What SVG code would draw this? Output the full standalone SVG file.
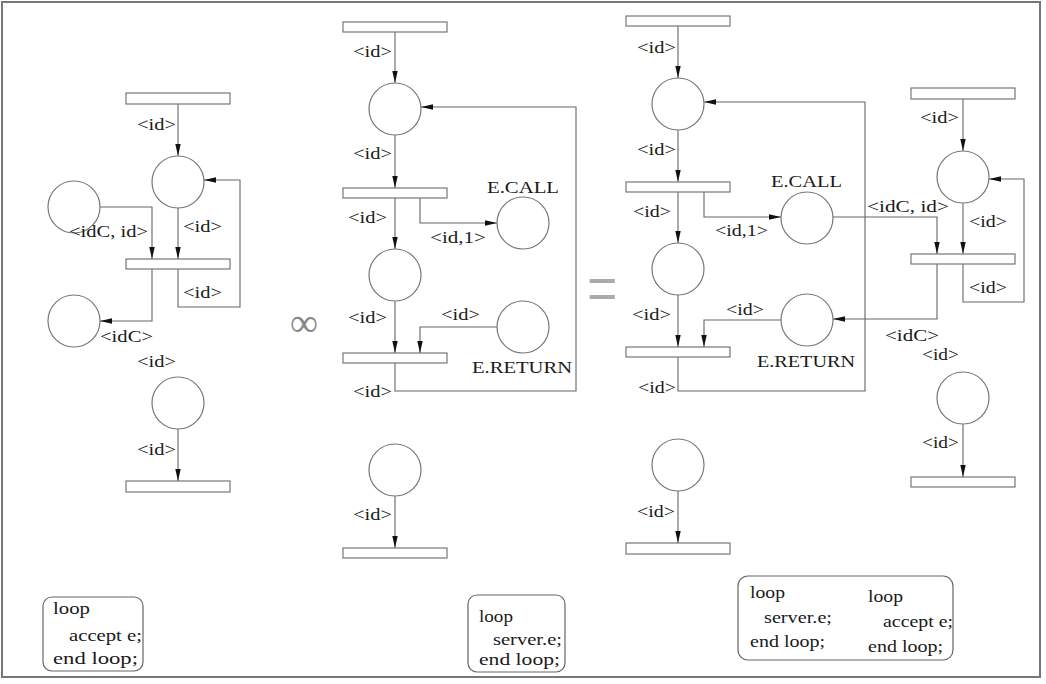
<svg xmlns="http://www.w3.org/2000/svg" width="1046" height="684" viewBox="0 0 1046 684">
  <defs>
    <marker id="ah" markerUnits="userSpaceOnUse" markerWidth="13" markerHeight="7" refX="12" refY="3.5" orient="auto">
      <path d="M0,0.8 L12,3.5 L0,6.2 z" fill="#111"/>
    </marker>
    <style>
      .pl { fill: #fff; stroke: #777; stroke-width: 1.2; }
      .tr { fill: #fff; stroke: #777; stroke-width: 1.2; }
      .arc { fill: none; stroke: #666; stroke-width: 1.1; }
      .arr { marker-end: url(#ah); }
      text { font-family: "Liberation Serif", "Times New Roman", serif; font-size: 16.5px; fill: #1a1a1a; }
      .box { fill: #fff; stroke: #666; stroke-width: 1.2; }
      text.inf { font-size: 40px; fill: #888; }
      text.eq { font-size: 40px; fill: #aaa; }
    </style>
  </defs>

  <rect x="2" y="2" width="1038" height="675" fill="#fff" stroke="#777" stroke-width="2"/>

  <!-- connectors -->
  <g id="connectors">
    <!-- net A (accept) -->
    <path class="arc arr" d="M178,104 V156"/>
    <path class="arc arr" d="M100,207 H152 V259"/>
    <path class="arc arr" d="M178,208 V259"/>
    <path class="arc arr" d="M178,269 V307 H240 V180 H204"/>
    <path class="arc arr" d="M152,269 V321 H100"/>
    <path class="arc arr" d="M178,429 V481"/>

    <!-- net B (caller) -->
    <path class="arc arr" d="M395,32 V83"/>
    <path class="arc arr" d="M395,135 V188"/>
    <path class="arc arr" d="M420,198 V223 H497"/>
    <path class="arc arr" d="M395,198 V249"/>
    <path class="arc arr" d="M395,301 V353"/>
    <path class="arc arr" d="M497,327 H420 V353"/>
    <path class="arc arr" d="M395,363 V391 H576 V107 H421"/>
    <path class="arc arr" d="M395,496 V548"/>

    <!-- net C (composed caller) -->
    <path class="arc arr" d="M678,26 V78"/>
    <path class="arc arr" d="M678,130 V182"/>
    <path class="arc arr" d="M704,192 V217 H781"/>
    <path class="arc arr" d="M678,192 V243"/>
    <path class="arc arr" d="M678,295 V347"/>
    <path class="arc arr" d="M781,320 H704 V347"/>
    <path class="arc arr" d="M678,357 V391 H865 V102 H704"/>
    <path class="arc arr" d="M678,491 V543"/>

    <!-- net C (composed server) -->
    <path class="arc arr" d="M963,99 V151"/>
    <path class="arc arr" d="M963,203 V254"/>
    <path class="arc arr" d="M833,217 H937 V254"/>
    <path class="arc arr" d="M963,264 V302 H1024 V179 H989"/>
    <path class="arc arr" d="M937,264 V319 H833"/>
    <path class="arc arr" d="M963,424 V477"/>
  </g>

  <!-- net A: server with accept -->
  <g id="netA">
    <rect class="tr" x="126" y="93" width="104" height="11"/>
    <circle class="pl" cx="178" cy="182" r="26"/>
    <circle class="pl" cx="74" cy="207" r="26"/>
    <rect class="tr" x="126" y="259" width="104" height="10"/>
    <circle class="pl" cx="74" cy="321" r="26"/>
    <circle class="pl" cx="178" cy="403" r="26"/>
    <rect class="tr" x="126" y="481" width="104" height="11"/>
    <text x="137" y="130" textLength="39" lengthAdjust="spacingAndGlyphs">&lt;id&gt;</text>
    <text x="69" y="237" textLength="79" lengthAdjust="spacingAndGlyphs">&lt;idC, id&gt;</text>
    <text x="183" y="232" textLength="39" lengthAdjust="spacingAndGlyphs">&lt;id&gt;</text>
    <text x="183" y="298" textLength="39" lengthAdjust="spacingAndGlyphs">&lt;id&gt;</text>
    <text x="100" y="342" textLength="53" lengthAdjust="spacingAndGlyphs">&lt;idC&gt;</text>
    <text x="137" y="367" textLength="39" lengthAdjust="spacingAndGlyphs">&lt;id&gt;</text>
    <text x="137" y="455" textLength="39" lengthAdjust="spacingAndGlyphs">&lt;id&gt;</text>
  </g>

  <text id="op-compose" class="inf" x="290" y="336" textLength="28" lengthAdjust="spacingAndGlyphs">∞</text>

  <!-- net B: client calling server.e -->
  <g id="netB">
    <rect class="tr" x="343" y="22" width="104" height="10"/>
    <circle class="pl" cx="395" cy="109" r="26"/>
    <rect class="tr" x="343" y="188" width="104" height="10"/>
    <circle class="pl" cx="523" cy="223" r="26"/>
    <circle class="pl" cx="395" cy="275" r="26"/>
    <circle class="pl" cx="523" cy="327" r="26"/>
    <rect class="tr" x="343" y="353" width="104" height="10"/>
    <circle class="pl" cx="395" cy="470" r="26"/>
    <rect class="tr" x="343" y="548" width="104" height="10"/>
    <text x="353" y="57" textLength="39" lengthAdjust="spacingAndGlyphs">&lt;id&gt;</text>
    <text x="353" y="159" textLength="39" lengthAdjust="spacingAndGlyphs">&lt;id&gt;</text>
    <text x="487" y="193" textLength="72" lengthAdjust="spacingAndGlyphs">E.CALL</text>
    <text x="348" y="223" textLength="39" lengthAdjust="spacingAndGlyphs">&lt;id&gt;</text>
    <text x="430" y="243" textLength="56" lengthAdjust="spacingAndGlyphs">&lt;id,1&gt;</text>
    <text x="348" y="323" textLength="39" lengthAdjust="spacingAndGlyphs">&lt;id&gt;</text>
    <text x="441" y="320" textLength="39" lengthAdjust="spacingAndGlyphs">&lt;id&gt;</text>
    <text x="472" y="373" textLength="100" lengthAdjust="spacingAndGlyphs">E.RETURN</text>
    <text x="353" y="397" textLength="39" lengthAdjust="spacingAndGlyphs">&lt;id&gt;</text>
    <text x="353" y="520" textLength="39" lengthAdjust="spacingAndGlyphs">&lt;id&gt;</text>
  </g>

  <text id="op-equals" class="eq" x="0" y="0" transform="translate(587,316) scale(1.35,2.0)">=</text>

  <!-- net C: client side of the composition -->
  <g id="netC-client">
    <rect class="tr" x="626" y="16" width="104" height="10"/>
    <circle class="pl" cx="678" cy="104" r="26"/>
    <rect class="tr" x="626" y="182" width="104" height="10"/>
    <circle class="pl" cx="807" cy="218" r="26"/>
    <circle class="pl" cx="678" cy="269" r="26"/>
    <circle class="pl" cx="807" cy="320" r="26"/>
    <rect class="tr" x="626" y="347" width="104" height="10"/>
    <circle class="pl" cx="678" cy="465" r="26"/>
    <rect class="tr" x="626" y="543" width="104" height="11"/>
    <text x="637" y="53" textLength="39" lengthAdjust="spacingAndGlyphs">&lt;id&gt;</text>
    <text x="637" y="155" textLength="39" lengthAdjust="spacingAndGlyphs">&lt;id&gt;</text>
    <text x="771" y="187" textLength="71" lengthAdjust="spacingAndGlyphs">E.CALL</text>
    <text x="633" y="217" textLength="38" lengthAdjust="spacingAndGlyphs">&lt;id&gt;</text>
    <text x="715" y="236" textLength="53" lengthAdjust="spacingAndGlyphs">&lt;id,1&gt;</text>
    <text x="632" y="320" textLength="39" lengthAdjust="spacingAndGlyphs">&lt;id&gt;</text>
    <text x="726" y="315" textLength="38" lengthAdjust="spacingAndGlyphs">&lt;id&gt;</text>
    <text x="757" y="367" textLength="98" lengthAdjust="spacingAndGlyphs">E.RETURN</text>
    <text x="638" y="393" textLength="38" lengthAdjust="spacingAndGlyphs">&lt;id&gt;</text>
    <text x="637" y="517" textLength="38" lengthAdjust="spacingAndGlyphs">&lt;id&gt;</text>
  </g>

  <!-- net C: server side of the composition -->
  <g id="netC-server">
    <rect class="tr" x="911" y="88" width="104" height="11"/>
    <circle class="pl" cx="963" cy="177" r="26"/>
    <rect class="tr" x="911" y="254" width="104" height="10"/>
    <circle class="pl" cx="963" cy="398" r="26"/>
    <rect class="tr" x="911" y="477" width="104" height="10"/>
    <text x="920" y="123" textLength="39" lengthAdjust="spacingAndGlyphs">&lt;id&gt;</text>
    <text x="867" y="212" textLength="82" lengthAdjust="spacingAndGlyphs">&lt;idC, id&gt;</text>
    <text x="969" y="227" textLength="38" lengthAdjust="spacingAndGlyphs">&lt;id&gt;</text>
    <text x="969" y="293" textLength="38" lengthAdjust="spacingAndGlyphs">&lt;id&gt;</text>
    <text x="885" y="341" textLength="54" lengthAdjust="spacingAndGlyphs">&lt;idC&gt;</text>
    <text x="922" y="360" textLength="37" lengthAdjust="spacingAndGlyphs">&lt;id&gt;</text>
    <text x="922" y="448" textLength="37" lengthAdjust="spacingAndGlyphs">&lt;id&gt;</text>
  </g>

  <!-- program texts -->
  <g id="code-server">
    <rect class="box" x="43" y="597" width="100" height="74" rx="9"/>
    <text x="53" y="614" textLength="37" lengthAdjust="spacingAndGlyphs">loop</text>
    <text x="69" y="641" textLength="73" lengthAdjust="spacingAndGlyphs">accept e;</text>
    <text x="53" y="664" textLength="85" lengthAdjust="spacingAndGlyphs">end loop;</text>
  </g>
  <g id="code-client">
    <rect class="box" x="468" y="595" width="97" height="77" rx="9"/>
    <text x="479" y="622" textLength="34" lengthAdjust="spacingAndGlyphs">loop</text>
    <text x="493" y="645" textLength="69" lengthAdjust="spacingAndGlyphs">server.e;</text>
    <text x="479" y="665" textLength="81" lengthAdjust="spacingAndGlyphs">end loop;</text>
  </g>
  <g id="code-both">
    <rect class="box" x="738" y="576" width="215" height="84" rx="10"/>
    <text x="750" y="598" textLength="35" lengthAdjust="spacingAndGlyphs">loop</text>
    <text x="764" y="623" textLength="68" lengthAdjust="spacingAndGlyphs">server.e;</text>
    <text x="750" y="647" textLength="75" lengthAdjust="spacingAndGlyphs">end loop;</text>
    <text x="868" y="602" textLength="35" lengthAdjust="spacingAndGlyphs">loop</text>
    <text x="883" y="627" textLength="70" lengthAdjust="spacingAndGlyphs">accept e;</text>
    <text x="868" y="652" textLength="75" lengthAdjust="spacingAndGlyphs">end loop;</text>
  </g>
</svg>
